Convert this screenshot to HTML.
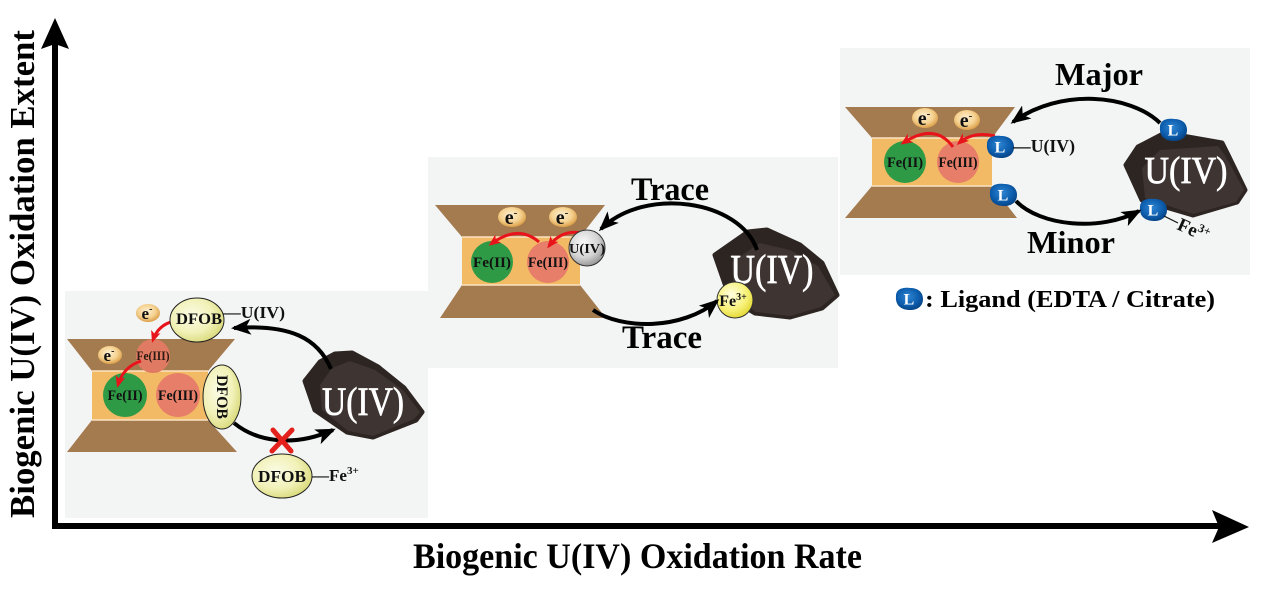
<!DOCTYPE html>
<html>
<head>
<meta charset="utf-8">
<style>
html,body{margin:0;padding:0;background:#fff;}
body{width:1269px;height:593px;overflow:hidden;}
svg{display:block;}
text{font-family:"Liberation Serif","DejaVu Serif",serif;font-weight:bold;}
text.rk{font-weight:normal;stroke:#fff;stroke-width:0.7px;}
</style>
</head>
<body>
<svg width="1269" height="593" viewBox="0 0 1269 593" xmlns="http://www.w3.org/2000/svg">
<defs>
  <marker id="ah" viewBox="0 0 20 16" refX="17" refY="8" markerWidth="20" markerHeight="16" markerUnits="userSpaceOnUse" orient="auto">
    <path d="M0,0 L20,8 L0,16 L5,8 Z" fill="#000"/>
  </marker>
  <marker id="rh" viewBox="0 0 12 10" refX="9" refY="5" markerWidth="12" markerHeight="10" markerUnits="userSpaceOnUse" orient="auto">
    <path d="M0,0 L12,5 L0,10 L3,5 Z" fill="#e8141c"/>
  </marker>
  <radialGradient id="eg" cx="45%" cy="40%" r="60%">
    <stop offset="0" stop-color="#fdf0d2"/>
    <stop offset="0.6" stop-color="#f5d291"/>
    <stop offset="1" stop-color="#dca04a"/>
  </radialGradient>
  <radialGradient id="dg" cx="40%" cy="40%" r="65%">
    <stop offset="0" stop-color="#fbfbe6"/>
    <stop offset="0.6" stop-color="#f1f1b8"/>
    <stop offset="1" stop-color="#d9d97a"/>
  </radialGradient>
  <radialGradient id="gg" cx="40%" cy="35%" r="70%">
    <stop offset="0" stop-color="#fafafa"/>
    <stop offset="0.6" stop-color="#d2d2d2"/>
    <stop offset="1" stop-color="#8e8e8e"/>
  </radialGradient>
  <radialGradient id="yg" cx="40%" cy="35%" r="70%">
    <stop offset="0" stop-color="#fffde0"/>
    <stop offset="0.6" stop-color="#f8f27a"/>
    <stop offset="1" stop-color="#e0d52e"/>
  </radialGradient>
  <radialGradient id="lg" cx="45%" cy="40%" r="65%">
    <stop offset="0" stop-color="#2f86d2"/>
    <stop offset="0.6" stop-color="#0d5eae"/>
    <stop offset="1" stop-color="#063f7f"/>
  </radialGradient>
  <g id="Lb">
    <path d="M-13,-3 C-13,-10 -6,-12 1,-11 C9,-11 14,-7 14,0 C14,7 9,11 1,11 C-7,11 -14,7 -13,-3 Z" fill="url(#lg)"/>
    <text x="0" y="5.5" text-anchor="middle" font-size="16" fill="#fff">L</text>
  </g>
</defs>

<!-- Panel backgrounds -->
<rect x="65" y="291" width="363" height="227" fill="#f3f4f4"/>
<rect x="428" y="157" width="410" height="211" fill="#f3f4f4"/>
<rect x="840" y="48" width="410" height="227" fill="#f3f4f4"/>

<!-- Axes -->
<line x1="55" y1="44" x2="55" y2="529" stroke="#000" stroke-width="6"/>
<polygon points="55,18 69,49 55,44 41,49" fill="#000"/>
<line x1="52" y1="526" x2="1222" y2="526" stroke="#000" stroke-width="6"/>
<polygon points="1212,510 1249,527 1212,543 1219,527" fill="#000"/>

<text transform="translate(34,274) rotate(-90)" text-anchor="middle" font-size="35" textLength="488" lengthAdjust="spacingAndGlyphs">Biogenic U(IV) Oxidation Extent</text>
<text x="413" y="568" font-size="36" textLength="449" lengthAdjust="spacingAndGlyphs">Biogenic U(IV) Oxidation Rate</text>

<!-- ================= PANEL 1 ================= -->
<polygon points="67,339 235,339 208,371 92,371" fill="#a47a4f"/>
<rect x="92" y="371" width="116" height="49" fill="#f3ba66"/>
<polygon points="92,420 208,420 237,452 67,452" fill="#a47a4f"/>
<line x1="92" y1="371" x2="208" y2="371" stroke="#fbe3c0" stroke-width="1.5"/>
<line x1="92" y1="420" x2="208" y2="420" stroke="#fbe3c0" stroke-width="1.5"/>

<circle cx="153" cy="356" r="17" fill="#e07a63"/>
<text x="153" y="360" text-anchor="middle" font-size="13" textLength="33" lengthAdjust="spacingAndGlyphs" fill="#2a1a12">Fe(III)</text>
<circle cx="125" cy="395" r="22" fill="#2e9a46"/>
<text x="125" y="400" text-anchor="middle" font-size="15" textLength="35" lengthAdjust="spacingAndGlyphs" fill="#111">Fe(II)</text>
<circle cx="178" cy="395" r="22" fill="#e77e69"/>
<text x="178" y="400" text-anchor="middle" font-size="15" textLength="40" lengthAdjust="spacingAndGlyphs" fill="#111">Fe(III)</text>

<ellipse cx="148" cy="313" rx="12" ry="9" fill="url(#eg)"/>
<text x="147" y="319" text-anchor="middle" font-size="17" fill="#111">e<tspan dy="-7" font-size="10">-</tspan></text>
<ellipse cx="110" cy="355" rx="12" ry="9" fill="url(#eg)"/>
<text x="109" y="361" text-anchor="middle" font-size="17" fill="#111">e<tspan dy="-7" font-size="10">-</tspan></text>

<path d="M174,321 Q158,325 153,340" fill="none" stroke="#e8141c" stroke-width="3" marker-end="url(#rh)"/>
<path d="M141,361 Q123,367 118,385" fill="none" stroke="#e8141c" stroke-width="3" marker-end="url(#rh)"/>

<ellipse cx="197" cy="320" rx="27" ry="22" fill="url(#dg)" stroke="#222" stroke-width="1"/>
<text x="199" y="324" text-anchor="middle" font-size="16" textLength="46" lengthAdjust="spacingAndGlyphs" fill="#111">DFOB</text>
<text x="223" y="318" font-size="17" textLength="62" lengthAdjust="spacingAndGlyphs" fill="#111">—U(IV)</text>

<ellipse cx="222" cy="397" rx="19" ry="32" fill="url(#dg)" stroke="#222" stroke-width="1"/>
<text transform="translate(222,397) rotate(90)" x="0" y="5" text-anchor="middle" font-size="16" textLength="44" lengthAdjust="spacingAndGlyphs" fill="#111">DFOB</text>

<!-- rock 1 -->
<polygon points="305,381 320,362 335,354 352,353 378,367 404,388 422,412 416,420 373,437 347,432 315,410" fill="#2d2522" stroke="#2d2522" stroke-width="5" stroke-linejoin="round"/>
<polygon points="320,385 332,368 350,361 375,370 403,390 420,412 414,419 373,436 348,431 322,410" fill="#3e3431"/>
<text class="rk" x="363" y="415" text-anchor="middle" font-size="40" textLength="82" lengthAdjust="spacingAndGlyphs" fill="#fff">U(IV)</text>

<path d="M331,369 C318,338 290,324 234,328" fill="none" stroke="#000" stroke-width="4" marker-end="url(#ah)"/>
<path d="M234,423 C256,441 292,448 333,430" fill="none" stroke="#000" stroke-width="4" marker-end="url(#ah)"/>

<path d="M273,430 L291,451 M292,430 L272,451" stroke="#e3201b" stroke-width="5" stroke-linecap="round"/>

<ellipse cx="282" cy="476" rx="30" ry="22" fill="url(#dg)" stroke="#222" stroke-width="1"/>
<text x="282" y="482" text-anchor="middle" font-size="17" textLength="48" lengthAdjust="spacingAndGlyphs" fill="#111">DFOB</text>
<text x="312" y="481" font-size="17" fill="#111">—Fe<tspan dy="-7" font-size="11">3+</tspan></text>

<!-- ================= PANEL 2 ================= -->
<polygon points="435,205 605,205 580,237 462,237" fill="#a47a4f"/>
<rect x="462" y="237" width="118" height="48" fill="#f3ba66"/>
<polygon points="462,285 580,285 606,318 440,318" fill="#a47a4f"/>
<line x1="462" y1="237" x2="580" y2="237" stroke="#fbe3c0" stroke-width="1.5"/>
<line x1="462" y1="285" x2="580" y2="285" stroke="#fbe3c0" stroke-width="1.5"/>

<ellipse cx="512" cy="217" rx="14" ry="10" fill="url(#eg)"/>
<text x="511" y="224" text-anchor="middle" font-size="20" fill="#111">e<tspan dy="-8" font-size="11">-</tspan></text>
<ellipse cx="563" cy="217" rx="14" ry="10" fill="url(#eg)"/>
<text x="562" y="224" text-anchor="middle" font-size="20" fill="#111">e<tspan dy="-8" font-size="11">-</tspan></text>

<circle cx="492" cy="262" r="21" fill="#2e9a46"/>
<text x="492" y="267" text-anchor="middle" font-size="15" textLength="38" lengthAdjust="spacingAndGlyphs" fill="#111">Fe(II)</text>
<circle cx="548" cy="262" r="21" fill="#e77e69"/>
<text x="548" y="267" text-anchor="middle" font-size="15" textLength="40" lengthAdjust="spacingAndGlyphs" fill="#111">Fe(III)</text>

<path d="M582,233 Q562,229 549,246" fill="none" stroke="#e8141c" stroke-width="3" marker-end="url(#rh)"/>
<path d="M539,242 Q518,224 491,244" fill="none" stroke="#e8141c" stroke-width="3" marker-end="url(#rh)"/>

<circle cx="587" cy="248" r="18" fill="url(#gg)" stroke="#333" stroke-width="1"/>
<text x="587" y="253" text-anchor="middle" font-size="14" textLength="36" lengthAdjust="spacingAndGlyphs" fill="#111">U(IV)</text>

<!-- rock 2 -->
<polygon points="715,255 748,232 767,230 800,245 822,263 837,295 822,308 790,317 755,313 730,298" fill="#2d2522" stroke="#2d2522" stroke-width="5" stroke-linejoin="round"/>
<polygon points="732,262 760,243 790,250 818,266 835,295 821,307 790,316 756,312 734,296" fill="#3e3431"/>
<text class="rk" x="772" y="283" text-anchor="middle" font-size="41" textLength="83" lengthAdjust="spacingAndGlyphs" fill="#fff">U(IV)</text>

<circle cx="735" cy="300" r="18" fill="url(#yg)" stroke="#333" stroke-width="1"/>
<text x="733" y="306" text-anchor="middle" font-size="16" fill="#111">Fe<tspan dy="-6" font-size="10">3+</tspan></text>

<path d="M757,250 C740,200 645,186 601,229" fill="none" stroke="#000" stroke-width="4" marker-end="url(#ah)"/>
<path d="M593,310 C622,330 682,330 717,301" fill="none" stroke="#000" stroke-width="4" marker-end="url(#ah)"/>

<text x="670" y="200" text-anchor="middle" font-size="33" textLength="78" lengthAdjust="spacingAndGlyphs" fill="#000">Trace</text>
<text x="662" y="348" text-anchor="middle" font-size="33" textLength="80" lengthAdjust="spacingAndGlyphs" fill="#000">Trace</text>

<!-- ================= PANEL 3 ================= -->
<polygon points="845,107 1015,107 992,138 872,138" fill="#a47a4f"/>
<rect x="872" y="138" width="120" height="48" fill="#f3ba66"/>
<polygon points="872,186 992,186 1017,218 845,218" fill="#a47a4f"/>
<line x1="872" y1="138" x2="992" y2="138" stroke="#fbe3c0" stroke-width="1.5"/>
<line x1="872" y1="186" x2="992" y2="186" stroke="#fbe3c0" stroke-width="1.5"/>

<ellipse cx="925" cy="118" rx="13" ry="10" fill="url(#eg)"/>
<text x="924" y="125" text-anchor="middle" font-size="20" fill="#111">e<tspan dy="-8" font-size="11">-</tspan></text>
<ellipse cx="967" cy="120" rx="13" ry="10" fill="url(#eg)"/>
<text x="966" y="127" text-anchor="middle" font-size="20" fill="#111">e<tspan dy="-8" font-size="11">-</tspan></text>

<circle cx="905" cy="162" r="21" fill="#2e9a46"/>
<text x="905" y="167" text-anchor="middle" font-size="15" textLength="36" lengthAdjust="spacingAndGlyphs" fill="#111">Fe(II)</text>
<circle cx="958" cy="162" r="21" fill="#e77e69"/>
<text x="958" y="167" text-anchor="middle" font-size="15" textLength="39" lengthAdjust="spacingAndGlyphs" fill="#111">Fe(III)</text>

<path d="M995,136 Q973,131 959,143" fill="none" stroke="#e8141c" stroke-width="3" marker-end="url(#rh)"/>
<path d="M953,147 Q935,122 903,143" fill="none" stroke="#e8141c" stroke-width="3" marker-end="url(#rh)"/>

<use href="#Lb" x="1000" y="147"/>
<text x="1013" y="152" font-size="18" textLength="62" lengthAdjust="spacingAndGlyphs" fill="#111">—U(IV)</text>
<use href="#Lb" x="1003" y="195"/>

<!-- rock 3 -->
<polygon points="1126,165 1138,147 1165,133 1222,143 1228,155 1245,190 1237,202 1193,215 1142,200" fill="#2d2522" stroke="#2d2522" stroke-width="5" stroke-linejoin="round"/>
<polygon points="1142,168 1160,150 1218,146 1226,157 1244,190 1236,202 1193,214 1145,198" fill="#3e3431"/>
<text class="rk" x="1186" y="183" text-anchor="middle" font-size="38" textLength="83" lengthAdjust="spacingAndGlyphs" fill="#fff">U(IV)</text>

<use href="#Lb" x="1173" y="130"/>
<use href="#Lb" x="1153" y="210"/>
<line x1="1164" y1="216" x2="1178" y2="223" stroke="#111" stroke-width="1.2"/>
<text transform="translate(1176,229) rotate(24)" font-size="19" fill="#111">Fe<tspan dy="-7" font-size="12">3+</tspan></text>

<path d="M1160,123 C1130,94 1060,88 1013,122" fill="none" stroke="#000" stroke-width="4" marker-end="url(#ah)"/>
<path d="M1016,201 C1040,226 1100,232 1139,211" fill="none" stroke="#000" stroke-width="4" marker-end="url(#ah)"/>

<text x="1099" y="85" text-anchor="middle" font-size="32" textLength="88" lengthAdjust="spacingAndGlyphs" fill="#000">Major</text>
<text x="1071" y="253" text-anchor="middle" font-size="32" textLength="88" lengthAdjust="spacingAndGlyphs" fill="#000">Minor</text>

<use href="#Lb" x="909" y="299"/>
<text x="925" y="307" font-size="24" textLength="290" lengthAdjust="spacingAndGlyphs" fill="#000">: Ligand (EDTA / Citrate)</text>
</svg>
</body>
</html>
